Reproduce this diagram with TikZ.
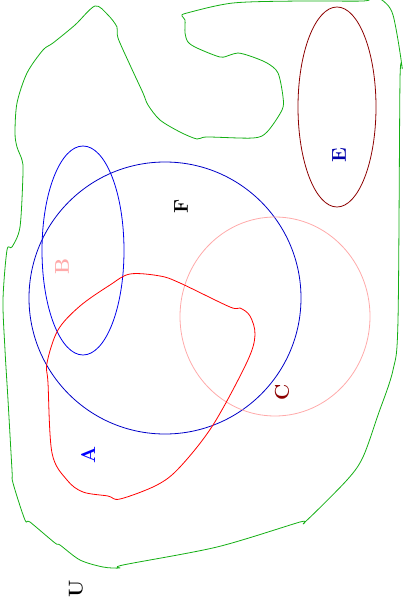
\documentclass[tikz,border=0pt]{standalone}

\definecolor{setgreen}{RGB}{20,175,20}
\definecolor{setblue}{RGB}{0,0,235}
\definecolor{setnavy}{RGB}{0,0,170}
\definecolor{setpink}{RGB}{255,170,170}
\definecolor{setmaroon}{RGB}{140,0,0}

\begin{document}
\begin{tikzpicture}[
  x=1pt, y=-1pt, line cap=round, line join=round,
  set/.style={line width=0.8pt},
  lbl/.style={rotate=90, inner sep=0pt,
              font=\fontsize{20}{22}\selectfont\bfseries}
]

  \useasboundingbox (0,0) rectangle (403,615);

  % ── Universe ───────────────────────────────────────────────────────────────
  \draw[set, setgreen] plot[smooth cycle, tension=0.5] coordinates {
    (95,6) (108,15) (117,27) (118,38) (130,65) (143,93) (148,105)
    (160,120) (180,132) (197,139) (207,137) (253,138) (267,132)
    (282,110) (283,97) (278,73) (267,63) (250,56) (238,53) (230,55)
    (220,57) (197,48) (188,42) (185,33) (185,20) (182,16) (187,13)
    (233,3) (300,1) (363,1) (372,-2) (382,0) (393,15) (402,67)
    (400,80) (398,320) (393,370) (378,415) (363,457) (347,480)
    (305,522) (300,522) (217,547) (123,565) (120,568) (103,567)
    (80,560) (60,545) (55,543) (30,522) (25,520) (13,483) (12,470)
    (8,400) (5,350) (3,300) (7,250) (12,247) (20,227) (23,173)
    (22,160) (17,147) (15,133) (17,103) (27,73) (43,50) (53,43)
    (75,25)};

  % ── Sets ───────────────────────────────────────────────────────────────────
  \draw[set, setblue!85!black] (165,298) circle [radius=136];
  \draw[set, setpink] (275,316.5) ellipse [x radius=95, y radius=99.5];
  \draw[set, setblue] (83,250.5) ellipse [x radius=41, y radius=104.5];
  \draw[set, setmaroon] (337,107) ellipse [x radius=39, y radius=100];

  % A: free-form region
  \draw[set, red] plot[smooth cycle, tension=0.55] coordinates {
    (130,274) (160,276) (180,283) (230,307) (240,308) (250,316)
    (255,335) (247,362) (213,425) (180,467) (157,485) (120,499)
    (108,496) (83,492) (67,480) (52,453) (48,383) (47,363)
    (58,330) (80,306) (110,285)};

  % ── Labels ─────────────────────────────────────────────────────────────────
  \node[lbl]            (labU) at (76,589)  {U};
  \node[lbl, blue]      (labA) at (88,455)  {A};
  \node[lbl, setpink]   (labB) at (62,266)  {B};
  \node[lbl, setmaroon] (labC) at (282,392) {C};
  \node[lbl, setnavy]   (labE) at (339,155) {E};
  \node[lbl]            (labF) at (181,206) {F};

\end{tikzpicture}
\end{document}
